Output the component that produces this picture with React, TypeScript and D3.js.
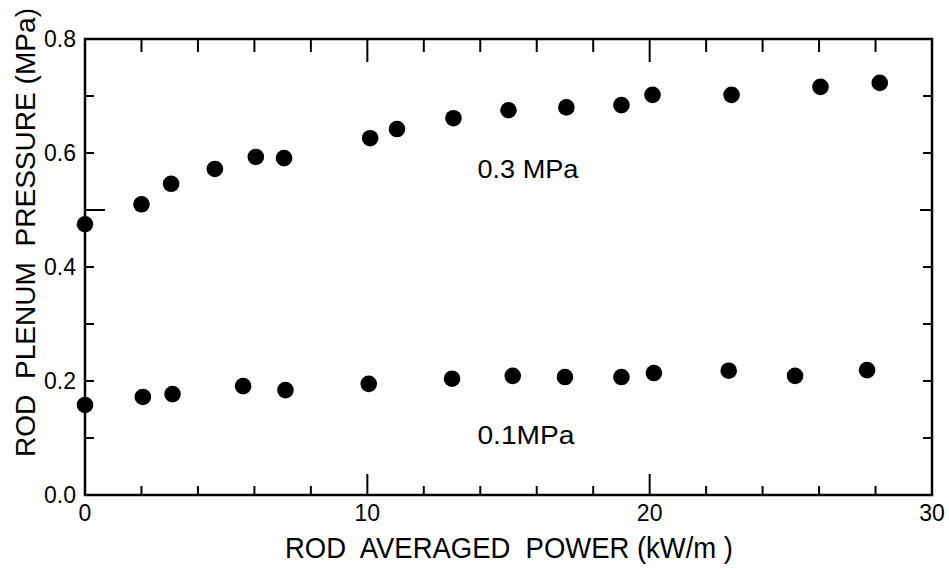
import React from "react";
import * as d3 from "d3";

const powerHigh = [0, 2.0, 3.05, 4.6, 6.05, 7.05, 10.1, 11.05, 13.05, 15.0, 17.05, 19.0, 20.1, 22.9, 26.05, 28.15];
const pressureHigh = [0.475, 0.51, 0.546, 0.572, 0.593, 0.591, 0.626, 0.642, 0.661, 0.675, 0.68, 0.684, 0.702, 0.702, 0.716, 0.723];

const powerLow = [0, 2.05, 3.1, 5.6, 7.1, 10.05, 13.0, 15.15, 17.0, 19.0, 20.15, 22.8, 25.15, 27.7];
const pressureLow = [0.158, 0.172, 0.177, 0.191, 0.184, 0.195, 0.204, 0.209, 0.207, 0.207, 0.214, 0.218, 0.209, 0.219];

const xTickLabels = [0, 10, 20, 30];
const yTickLabels = [0.0, 0.2, 0.4, 0.6, 0.8];
const xMinorTicks = [2, 4, 6, 8, 10, 12, 14, 16, 18, 20, 22, 24, 26, 28];
const yMinorTicks = [0.1, 0.2, 0.3, 0.4, 0.5, 0.6, 0.7];

const seriesLabels = [
  { text: "0.3 MPa", x: 13.9, y: 0.557 },
  { text: "0.1MPa", x: 13.9, y: 0.09 },
];

const xTitle = "ROD  AVERAGED  POWER (kW/m )";
const yTitle = "ROD  PLENUM  PRESSURE (MPa)";

export default function App() {
  const W = 949;
  const H = 569;
  const x = d3.scaleLinear().domain([0, 30]).range([85, 932]);
  const y = d3.scaleLinear().domain([0, 0.8]).range([495, 39]);
  const font = "'Liberation Sans', Arial, sans-serif";
  const [x0, x1] = x.range();
  const [y0, y1] = y.range();

  const high = powerHigh.map((p, i) => [p, pressureHigh[i]]);
  const low = powerLow.map((p, i) => [p, pressureLow[i]]);

  return (
    <svg
      width={W}
      height={H}
      viewBox={`0 0 ${W} ${H}`}
      style={{ position: "absolute", left: 0, top: 0, display: "block", background: "#fff" }}
    >
      <rect x={0} y={0} width={W} height={H} fill="#fff" />
      <rect x={x0} y={y1} width={x1 - x0} height={y0 - y1} fill="none" stroke="#000" strokeWidth={2.5} />

      {xMinorTicks.map((t) => {
        const major = t % 10 === 0;
        return (
          <g key={"xt" + t}>
            <line x1={x(t)} x2={x(t)} y1={y0} y2={y0 - (major ? 21 : 9)} stroke="#000" strokeWidth={2} />
            <line x1={x(t)} x2={x(t)} y1={y1} y2={y1 + (major ? 23 : 13)} stroke="#000" strokeWidth={2} />
          </g>
        );
      })}

      {yMinorTicks.map((t) => {
        const long = Math.abs(t - 0.5) < 1e-6;
        return (
          <g key={"yt" + t}>
            <line x1={x0} x2={x0 + (long ? 20 : 9)} y1={y(t)} y2={y(t)} stroke="#000" strokeWidth={2} />
            <line x1={x1} x2={x1 - (long ? 12 : 9)} y1={y(t)} y2={y(t)} stroke="#000" strokeWidth={2} />
          </g>
        );
      })}

      {xTickLabels.map((t) => (
        <text key={"xl" + t} x={x(t)} y={521} textAnchor="middle" fontFamily={font} fontSize={23} fill="#000">
          {t}
        </text>
      ))}
      {yTickLabels.map((t) => (
        <text key={"yl" + t} x={76} y={y(t) + 8} textAnchor="end" fontFamily={font} fontSize={23} fill="#000">
          {t.toFixed(1)}
        </text>
      ))}

      {high.map((d, i) => (
        <circle key={"h" + i} cx={x(d[0])} cy={y(d[1])} r={8.3} fill="#000" />
      ))}
      {low.map((d, i) => (
        <circle key={"l" + i} cx={x(d[0])} cy={y(d[1])} r={8.3} fill="#000" />
      ))}

      {seriesLabels.map((s) => (
        <text
          key={s.text}
          x={x(s.x)}
          y={y(s.y)}
          fontFamily={font}
          fontSize={26}
          fill="#000"
          textLength={s.text.length > 6 ? 101 : 97}
          lengthAdjust="spacingAndGlyphs"
          style={{ whiteSpace: "pre" }}
        >
          {s.text}
        </text>
      ))}

      <text
        x={285}
        y={558}
        fontFamily={font}
        fontSize={29}
        fill="#000"
        textLength={448}
        lengthAdjust="spacingAndGlyphs"
        style={{ whiteSpace: "pre" }}
      >
        {xTitle}
      </text>
      <text
        transform={`translate(35, 457) rotate(-90)`}
        x={0}
        y={0}
        fontFamily={font}
        fontSize={27}
        fill="#000"
        textLength={449}
        lengthAdjust="spacingAndGlyphs"
        style={{ whiteSpace: "pre" }}
      >
        {yTitle}
      </text>
    </svg>
  );
}
